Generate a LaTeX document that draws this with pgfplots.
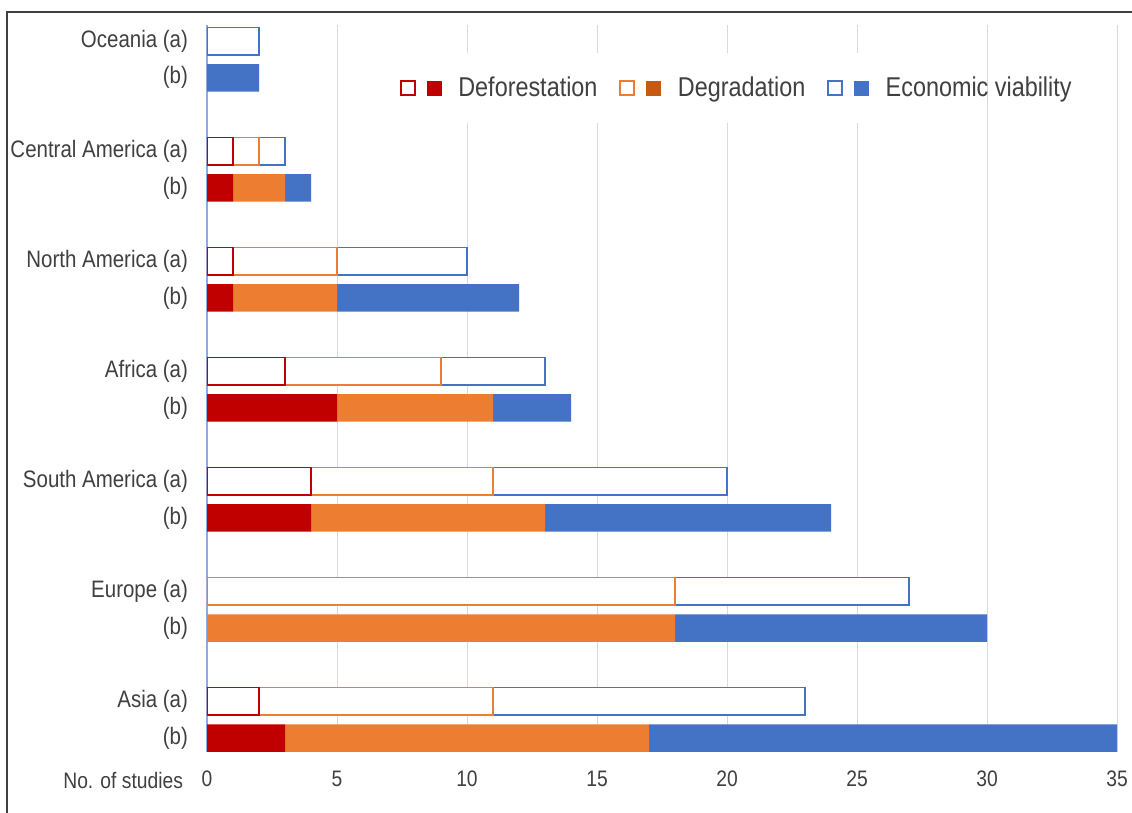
\documentclass[border=0pt]{standalone}
\usepackage{pgfplots}
\pgfplotsset{compat=1.18}
\usepackage{pgfplotstable}
\usepackage{fontspec}
\setmainfont[FakeStretch=0.86]{Liberation Sans}
\usetikzlibrary{backgrounds}

\definecolor{defred}{HTML}{C00000}
\definecolor{degorange}{HTML}{ED7D31}
\definecolor{degdark}{HTML}{C55A11}
\definecolor{ecoblue}{HTML}{4472C4}
\definecolor{axisblue}{HTML}{8FAADC}
\definecolor{gridgray}{HTML}{D9D9D9}
\definecolor{txtgray}{HTML}{404040}
\definecolor{framegray}{HTML}{404040}

% (a) rows: open bars
\pgfplotstableread{
y  def deg eco
19 0   0   2
16 1   1   1
13 1   4   5
10 3   6   4
7  4   7   9
4  0   18  9
1  2   9   12
}\regionsA

% (b) rows: filled bars
\pgfplotstableread{
y  def deg eco
18 0   0   2
15 1   2   1
12 1   4   7
9  5   6   3
6  4   9   11
3  0   18  12
0  3   14  18
}\regionsB

\pgfplotsset{regions/.style={
  width=455pt, height=363.5pt, scale only axis,
  xbar stacked, bar width=0.75,
  xmin=0, xmax=35, ymin=-0.38, ymax=19.44,
}}

\begin{document}
\begin{tikzpicture}
\begin{axis}[regions, name=ax,
  axis line style={draw=none},
  major tick length=0pt,
  xtick={5,10,...,35},
  xmajorgrids,
  major grid style={gridgray, line width=0.5pt},
  extra x ticks={0},
  extra x tick style={grid=major, major grid style={axisblue, line width=0.75pt}},
  ytick={0,1,3,4,6,7,9,10,12,13,15,16,18,19},
  yticklabels={(b),Asia (a),(b),Europe (a),(b),South America (a),(b),Africa (a),(b),North America (a),(b),Central America (a),(b),Oceania (a)},
  tick label style={font=\fontsize{11.2}{13}\selectfont, text=txtgray},
  xticklabel style={yshift=-6pt},
  yticklabel style={xshift=-6pt, font=\fontsize{11.9}{13}\selectfont},
  /pgf/number format/assume math mode=true,
  legend columns=3,
  legend style={at={(rel axis cs:0.205,0.913)}, anchor=west, draw=none, fill=none,
    font=\fontsize{13.6}{16}\selectfont, text=txtgray,
    /tikz/every odd column/.append style={column sep=6.5pt},
    /tikz/every even column/.append style={column sep=9pt}},
]
\addlegendimage{legend image code/.code={
  \draw[defred, line width=1pt, fill=white] (0pt,-3.5pt) rectangle (7pt,3.5pt);
  \fill[defred] (13pt,-3.5pt) rectangle (20pt,3.5pt);}}
\addlegendimage{legend image code/.code={
  \draw[degorange, line width=1pt, fill=white] (0pt,-3.5pt) rectangle (7pt,3.5pt);
  \fill[degdark] (13pt,-3.5pt) rectangle (20pt,3.5pt);}}
\addlegendimage{legend image code/.code={
  \draw[ecoblue, line width=1pt, fill=white] (0pt,-3.5pt) rectangle (7pt,3.5pt);
  \fill[ecoblue] (13pt,-3.5pt) rectangle (20pt,3.5pt);}}
\legend{Deforestation, Degradation, Economic viability}

\fill[white] (rel axis cs:0.19,0.865) rectangle (rel axis cs:0.844,0.961);

\addplot[draw=defred, fill=white, line width=0.75pt] table[x=def, y=y] {\regionsA};
\addplot[draw=degorange, fill=white, line width=0.75pt] table[x=deg, y=y] {\regionsA};
\addplot[draw=ecoblue, fill=white, line width=0.75pt] table[x=eco, y=y] {\regionsA};
\end{axis}

\begin{axis}[regions, hide axis]
\addplot[fill=defred, draw=none] table[x=def, y=y] {\regionsB};
\addplot[fill=degorange, draw=none] table[x=deg, y=y] {\regionsB};
\addplot[fill=ecoblue, draw=none] table[x=eco, y=y] {\regionsB};
\end{axis}

\node[anchor=east, font=\fontsize{11.2}{13}\selectfont, text=txtgray]
  at ([xshift=-8.5pt, yshift=-14pt]ax.south west) {No. of studies};

\draw[framegray, line width=1pt]
  ([xshift=-100pt, yshift=-40pt]ax.south west) -- ([xshift=-100pt, yshift=6.5pt]ax.north west)
  -- ([xshift=20pt, yshift=6.5pt]ax.north east);

\pgfresetboundingbox
\path[use as bounding box] ([xshift=-103.5pt, yshift=-30pt]ax.south west)
  rectangle ([xshift=7.5pt, yshift=12.5pt]ax.north east);
\begin{scope}[on background layer]
  \fill[white] ([xshift=-103.5pt, yshift=-30pt]ax.south west)
    rectangle ([xshift=7.5pt, yshift=12.5pt]ax.north east);
\end{scope}
\end{tikzpicture}
\end{document}
